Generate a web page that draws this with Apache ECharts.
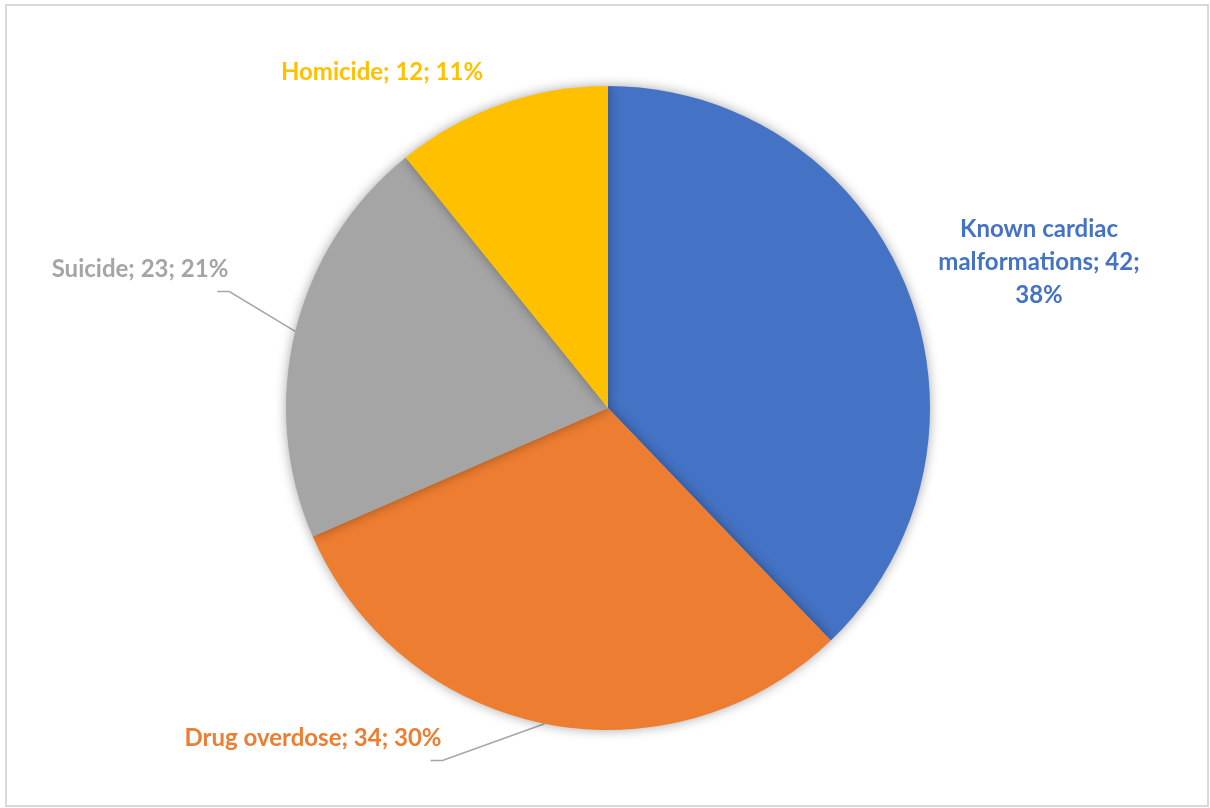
<!DOCTYPE html>
<html>
<head>
<meta charset="utf-8">
<title>Causes</title>
<script src="https://cdn.jsdelivr.net/npm/echarts@6/dist/echarts.min.js"></script>
<style>
  html, body { margin: 0; padding: 0; background: #ffffff; }
  #chart { width: 1210px; height: 808px; }
</style>
</head>
<body>
<div id="chart"></div>
<script>
// Categories and counts
const categories = ['Known cardiac malformations', 'Drug overdose', 'Suicide', 'Homicide'];
const counts = [42, 34, 23, 12];
const percentLabels = ['38%', '30%', '21%', '11%'];
const sliceColors = ['#4472C4', '#ED7D31', '#A5A5A5', '#FFC000'];

// Label text (the long category name wraps over three lines)
const labelTexts = [
  'Known cardiac\nmalformations; ' + counts[0] + ';\n' + percentLabels[0],
  categories[1] + '; ' + counts[1] + '; ' + percentLabels[1],
  categories[2] + '; ' + counts[2] + '; ' + percentLabels[2],
  categories[3] + '; ' + counts[3] + '; ' + percentLabels[3]
];

// Label placement (centre of each label box) and whether a leader line is drawn
const labelCentres = [[1039, 262], [313, 738], [140, 269], [382, 72]];
const showLeader = [false, true, true, false];
const leaderDrop = 6;   // leader runs just under the label's lower edge
const leaderTail = 12;  // short horizontal tail under the end of the text

const chart = echarts.init(document.getElementById('chart'), null, { renderer: 'canvas' });

const data = categories.map((name, i) => ({
  name: name,
  value: counts[i],
  itemStyle: { color: sliceColors[i] },
  label: { color: sliceColors[i], formatter: labelTexts[i] },
  labelLine: { show: showLeader[i] }
}));

chart.setOption({
  animation: false,
  backgroundColor: '#ffffff',
  graphic: [{
    type: 'rect',
    shape: { x: 6, y: 5, width: 1202, height: 801 },
    style: { fill: null, stroke: '#d9d9d9', lineWidth: 2 },
    silent: true
  }],
  series: [{
    type: 'pie',
    center: [608, 408],
    radius: 322,
    startAngle: 90,
    clockwise: true,
    avoidLabelOverlap: false,
    itemStyle: {
      shadowBlur: 12,
      shadowColor: 'rgba(0,0,0,0.35)'
    },
    label: {
      show: true,
      position: 'outside',
      fontFamily: 'Lato',
      fontWeight: 'bold',
      fontSize: 24,
      lineHeight: 33,
      align: 'center'
    },
    labelLine: {
      show: true,
      length: 20,
      length2: 12,
      lineStyle: { color: '#A6A6A6', width: 1.5 }
    },
    labelLayout: function (params) {
      const i = params.dataIndex;
      const c = labelCentres[i];
      const out = { x: c[0], y: c[1], align: 'center', verticalAlign: 'middle' };
      if (showLeader[i] && params.labelLinePoints) {
        const anchor = params.labelLinePoints[0];
        const right = c[0] + params.labelRect.width / 2;
        const lineY = c[1] + params.labelRect.height / 2 + leaderDrop;
        out.labelLinePoints = [
          [anchor[0], anchor[1]],
          [right + 1, lineY],
          [right + 1 - leaderTail, lineY]
        ];
      }
      return out;
    },
    data: data
  }]
});
</script>
</body>
</html>
